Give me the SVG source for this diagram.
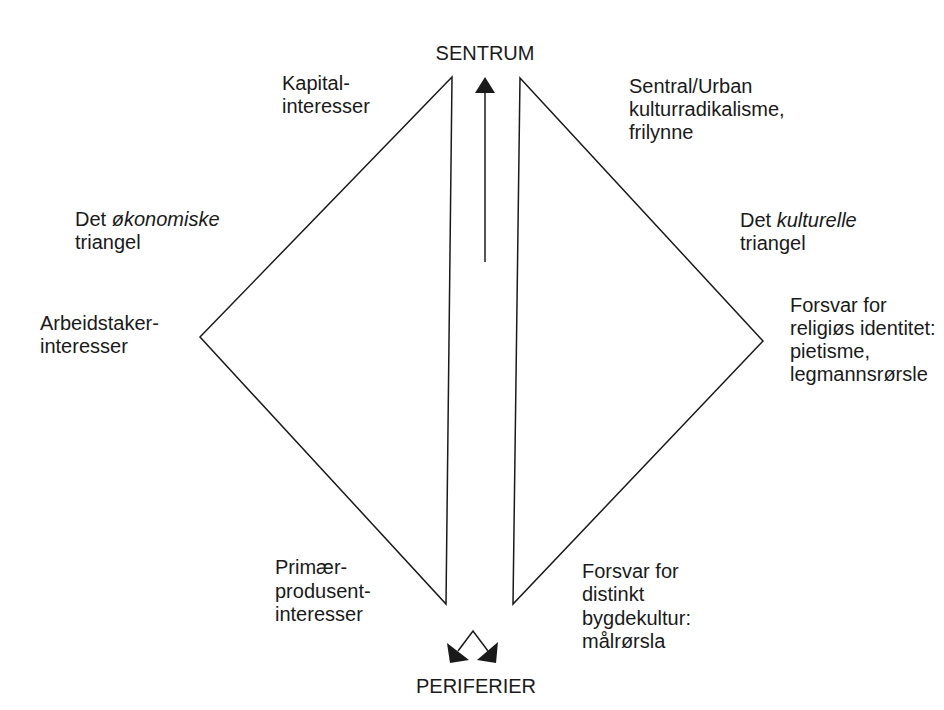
<svg xmlns="http://www.w3.org/2000/svg" width="944" height="710" viewBox="0 0 944 710">
  <style>
    text { font-family: "Liberation Sans", Arial, sans-serif; font-size: 20px; fill: #1a1a1a; }
    .tri { fill: none; stroke: #1a1a1a; stroke-width: 1.5; stroke-linejoin: miter; }
    .conn { fill: none; stroke: #1a1a1a; stroke-width: 1.5; }
    .head { fill: #1a1a1a; stroke: none; }
  </style>
  <rect width="944" height="710" fill="#ffffff"/>

  <g id="economic-triangle">
    <polygon class="tri" points="452,77 200,337 446,604"/>
  </g>
  <g id="cultural-triangle">
    <polygon class="tri" points="520,78 763,341 513,604"/>
  </g>

  <g id="connectors">
    <line class="conn" x1="485" y1="262" x2="485" y2="92"/>
    <polygon class="head" points="485,77 495,93 475,93"/>
    <polyline class="conn" points="458,651 473,631 488,651"/>
    <polygon class="head" points="447,643 469,660 450,663"/>
    <polygon class="head" points="477,660 498,642 496,663"/>
  </g>

  <g id="sentrum"><text x="485" y="60" text-anchor="middle">SENTRUM</text></g>
  <g id="periferier"><text x="476" y="693" text-anchor="middle">PERIFERIER</text></g>

  <g id="kapital">
    <text x="282" y="90">Kapital-</text>
    <text x="282" y="113">interesser</text>
  </g>
  <g id="arbeidstaker">
    <text x="40" y="330">Arbeidstaker-</text>
    <text x="40" y="353">interesser</text>
  </g>
  <g id="primaer">
    <text x="275" y="574">Primær-</text>
    <text x="275" y="598">produsent-</text>
    <text x="275" y="621">interesser</text>
  </g>
  <g id="okonomiske">
    <text x="75" y="226">Det <tspan font-style="italic">økonomiske</tspan></text>
    <text x="75" y="249">triangel</text>
  </g>

  <g id="sentral-urban">
    <text x="629" y="93">Sentral/Urban</text>
    <text x="629" y="116">kulturradikalisme,</text>
    <text x="629" y="139">frilynne</text>
  </g>
  <g id="kulturelle">
    <text x="740" y="227">Det <tspan font-style="italic">kulturelle</tspan></text>
    <text x="740" y="250">triangel</text>
  </g>
  <g id="religios">
    <text x="790" y="312">Forsvar for</text>
    <text x="790" y="335">religiøs identitet:</text>
    <text x="790" y="358">pietisme,</text>
    <text x="790" y="381">legmannsrørsle</text>
  </g>
  <g id="bygdekultur">
    <text x="582" y="578">Forsvar for</text>
    <text x="582" y="601">distinkt</text>
    <text x="582" y="625">bygdekultur:</text>
    <text x="582" y="648">målrørsla</text>
  </g>
</svg>
